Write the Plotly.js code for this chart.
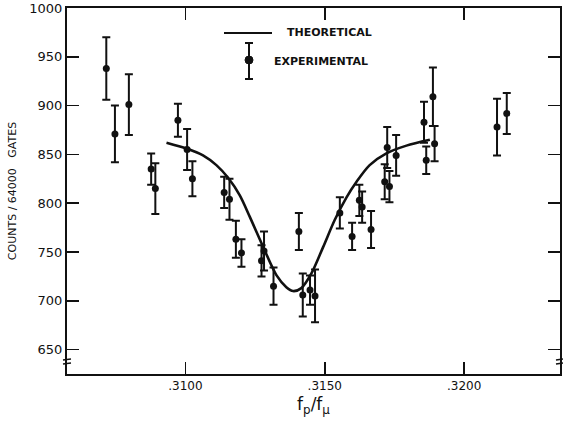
<!DOCTYPE html>
<html>
<head>
<meta charset="utf-8">
<script src="https://cdn.plot.ly/plotly-3.0.1.min.js"></script>
<style>html,body{margin:0;padding:0;background:#fff;}#chart{width:563px;height:429px;}</style>
</head>
<body>
<div id="chart"></div>
<script>
// Experimental points: frequency ratio, counts, error
const expX = [0.30716, 0.30747, 0.30797, 0.30877, 0.30892, 0.30973, 0.31006, 0.31025,
  0.31139, 0.31158, 0.31181, 0.31201, 0.31273, 0.31282, 0.31316, 0.31407, 0.31421,
  0.31447, 0.31465, 0.31554, 0.31598, 0.31624, 0.31634, 0.31666, 0.31715, 0.31724,
  0.31732, 0.31756, 0.31856, 0.31864, 0.31888, 0.31894, 0.32118, 0.32153];
const expY = [938, 871, 901, 835, 815, 885, 855, 825,
  811, 804, 763, 749, 741, 751, 715, 771, 706,
  711, 705, 790, 766, 803, 796, 773, 822, 857,
  817, 849, 883, 844, 909, 861, 878, 892];
const expErr = [32, 29, 31, 16, 26, 17, 21, 18,
  16, 21, 19, 14, 16, 20, 19, 19, 22,
  15, 27, 16, 14, 16, 16, 19, 18, 21,
  16, 21, 21, 14, 30, 18, 29, 21];

// Theoretical curve
const theoX = [0.30932, 0.31004, 0.31063, 0.31111, 0.31153, 0.31195, 0.31231, 0.31273,
  0.31327, 0.31362, 0.31386, 0.31416, 0.31452, 0.31494, 0.31536, 0.31578, 0.31614,
  0.31661, 0.31721, 0.31793, 0.31877];
const theoY = [862, 856, 849, 839, 826, 808, 786, 759,
  726, 714, 710, 713, 728, 755, 783, 806, 822,
  839, 851, 859, 865];

const xTickVals = [0.31, 0.315, 0.32];
const xTickText = ['.3100', '.3150', '.3200'];
const yTickVals = [650, 700, 750, 800, 850, 900, 950, 1000];
const yTickText = ['650', '700', '750', '800', '850', '900', '950', '1000'];

const FONT = 'DejaVu Sans, Liberation Sans, sans-serif';

const traces = [
  {
    x: theoX, y: theoY, type: 'scatter', mode: 'lines',
    line: {color: '#111', width: 2.6, shape: 'spline', smoothing: 0.8},
    hoverinfo: 'skip', showlegend: false
  },
  {
    x: expX, y: expY, type: 'scatter', mode: 'markers',
    marker: {color: '#111', size: 7},
    error_y: {type: 'data', array: expErr, visible: true, color: '#111', thickness: 2, width: 4},
    showlegend: false
  }
];

function px(p) { return (p - 67) / 493; }
function py(p) { return (374 - p) / 366; }

const shapes = [
  // legend line
  {type: 'line', xref: 'paper', yref: 'paper', x0: px(224), x1: px(272), y0: py(33), y1: py(33), line: {color: '#111', width: 2}},
  // legend error bar
  {type: 'line', xref: 'paper', yref: 'paper', x0: px(249), x1: px(249), y0: py(43), y1: py(79), line: {color: '#111', width: 2}},
  {type: 'line', xref: 'paper', yref: 'paper', x0: px(245), x1: px(253), y0: py(43), y1: py(43), line: {color: '#111', width: 2}},
  {type: 'line', xref: 'paper', yref: 'paper', x0: px(245), x1: px(253), y0: py(79), y1: py(79), line: {color: '#111', width: 2}},
  {type: 'circle', xref: 'paper', yref: 'paper', x0: px(245), x1: px(253), y0: py(56), y1: py(64), fillcolor: '#111', line: {color: '#111', width: 1}},
  // axis break marks
  {type: 'line', xref: 'paper', yref: 'paper', x0: px(63), x1: px(71), y0: py(360), y1: py(359), line: {color: '#111', width: 1.5}},
  {type: 'line', xref: 'paper', yref: 'paper', x0: px(63), x1: px(71), y0: py(364), y1: py(363), line: {color: '#111', width: 1.5}},
  {type: 'line', xref: 'paper', yref: 'paper', x0: px(556), x1: px(563), y0: py(360), y1: py(359), line: {color: '#111', width: 1.5}},
  {type: 'line', xref: 'paper', yref: 'paper', x0: px(556), x1: px(563), y0: py(364), y1: py(363), line: {color: '#111', width: 1.5}}
];

const annotations = [
  {xref: 'paper', yref: 'paper', x: px(285), y: py(33), text: '<b>THEORETICAL</b>', showarrow: false,
   xanchor: 'left', yanchor: 'middle', font: {family: FONT, size: 11, color: '#111'}},
  {xref: 'paper', yref: 'paper', x: px(272), y: py(61), text: '<b>EXPERIMENTAL</b>', showarrow: false,
   xanchor: 'left', yanchor: 'middle', font: {family: FONT, size: 11, color: '#111'}}
];

const layout = {
  width: 563, height: 429,
  margin: {l: 67, r: 3, t: 8, b: 55},
  paper_bgcolor: '#fff', plot_bgcolor: '#fff',
  font: {family: FONT, color: '#111'},
  xaxis: {
    range: [0.30575, 0.32344],
    tickvals: xTickVals, ticktext: xTickText,
    ticks: 'inside', ticklen: 12, tickwidth: 1.5, tickcolor: '#111',
    showline: true, linecolor: '#111', linewidth: 2, mirror: 'ticks',
    showgrid: false, zeroline: false,
    tickfont: {family: FONT, size: 12, color: '#111'},
    title: {text: 'f<sub>p</sub>/f<sub>μ</sub>', font: {family: FONT, size: 17, color: '#111'}, standoff: 6}
  },
  yaxis: {
    range: [625, 1000],
    tickvals: yTickVals, ticktext: yTickText,
    ticks: 'inside', ticklen: 12, tickwidth: 1.5, tickcolor: '#111',
    showline: true, linecolor: '#111', linewidth: 2, mirror: 'ticks',
    showgrid: false, zeroline: false,
    tickfont: {family: FONT, size: 13, color: '#111'},
    title: {text: 'COUNTS / 64000   GATES', font: {family: FONT, size: 11, color: '#111'}, standoff: 10}
  },
  shapes: shapes,
  annotations: annotations,
  showlegend: false
};

Plotly.newPlot('chart', traces, layout, {displayModeBar: false, staticPlot: true});
</script>
</body>
</html>
